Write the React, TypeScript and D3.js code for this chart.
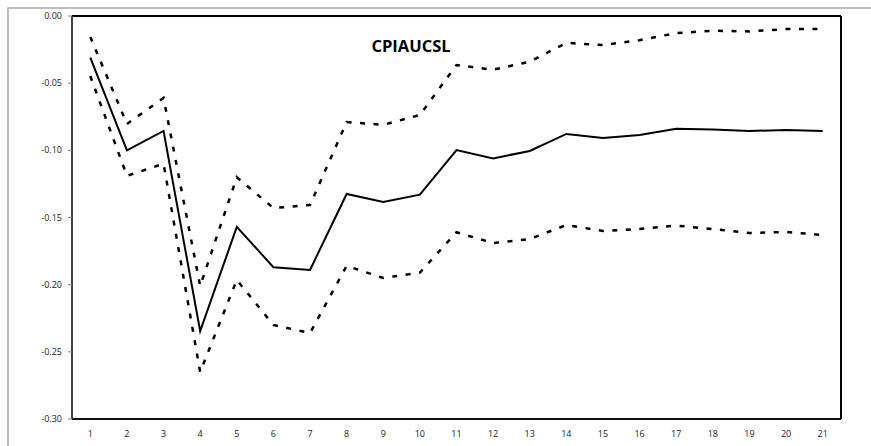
import React from "react";
import * as d3 from "d3";

const periods = d3.range(1, 22).map(String);
const response = [-0.031, -0.100, -0.0856, -0.2345, -0.157, -0.187, -0.189, -0.1325, -0.1385, -0.133, -0.0998, -0.106, -0.1005, -0.0878, -0.0908, -0.0886, -0.084, -0.0845, -0.0856, -0.0849, -0.0856];
const upperBand = [-0.0156, -0.0804, -0.061, -0.201, -0.120, -0.143, -0.1407, -0.079, -0.081, -0.0737, -0.0365, -0.040, -0.034, -0.020, -0.0216, -0.018, -0.0127, -0.011, -0.0115, -0.0097, -0.0097];
const lowerBand = [-0.0447, -0.119, -0.110, -0.265, -0.1965, -0.230, -0.236, -0.186, -0.195, -0.191, -0.161, -0.169, -0.166, -0.1556, -0.160, -0.1586, -0.156, -0.1586, -0.1615, -0.1608, -0.163];
const yTicks = [0, -0.05, -0.1, -0.15, -0.2, -0.25, -0.3];
const title = "CPIAUCSL";

export default function App() {
  const W = 871, H = 446;
  const left = 72, right = 841, top = 16, bottom = 419;
  const x = d3.scaleBand<string>().domain(periods).range([left, right]);
  const y = d3.scaleLinear().domain([-0.3, 0]).range([bottom, top]);
  const line = d3
    .line<number>()
    .x((_, i) => (x(periods[i]) as number) + x.bandwidth() / 2)
    .y((d) => y(d));
  const font = "Open Sans, Liberation Sans, sans-serif";
  return (
    <svg
      width={W}
      height={H}
      style={{ position: "absolute", left: 0, top: 0, background: "#fff" }}
    >
      <rect x={8} y={8} width={W + 20} height={H + 20} fill="none" stroke="#a6a6a6" strokeWidth={1.5} />
      {/* plot frame */}
      <line x1={left} x2={right} y1={top} y2={top} stroke="#000" strokeWidth={2} />
      <line x1={right} x2={right} y1={top} y2={bottom} stroke="#000" strokeWidth={2} />
      <line x1={left} x2={right} y1={bottom} y2={bottom} stroke="#111" strokeWidth={2} />
      <line x1={left} x2={left} y1={top} y2={bottom} stroke="#404040" strokeWidth={2} />
      {yTicks.map((t) => (
        <g key={t}>
          <line x1={left - 4} x2={left} y1={y(t)} y2={y(t)} stroke="#808080" strokeWidth={1} />
          <text
            x={left - 10}
            y={y(t)}
            dy="0.35em"
            textAnchor="end"
            fontSize={9}
            fontFamily={font}
            fill="#222"
          >
            {t.toFixed(2)}
          </text>
        </g>
      ))}
      {periods.map((p) => (
        <text
          key={p}
          x={(x(p) as number) + x.bandwidth() / 2}
          y={bottom + 18}
          textAnchor="middle"
          fontSize={9}
          fontFamily={font}
          fill="#222"
        >
          {p}
        </text>
      ))}
      <path d={line(upperBand) || ""} fill="none" stroke="#000" strokeWidth={2.5} strokeDasharray="5,8.5" />
      <path d={line(lowerBand) || ""} fill="none" stroke="#000" strokeWidth={2.5} strokeDasharray="5,8.5" />
      <path d={line(response) || ""} fill="none" stroke="#000" strokeWidth={2} />
      <text
        x={411}
        y={52}
        textAnchor="middle"
        fontSize={16.5}
        fontWeight="bold"
        fontFamily={font}
        fill="#000"
      >
        {title}
      </text>
    </svg>
  );
}
